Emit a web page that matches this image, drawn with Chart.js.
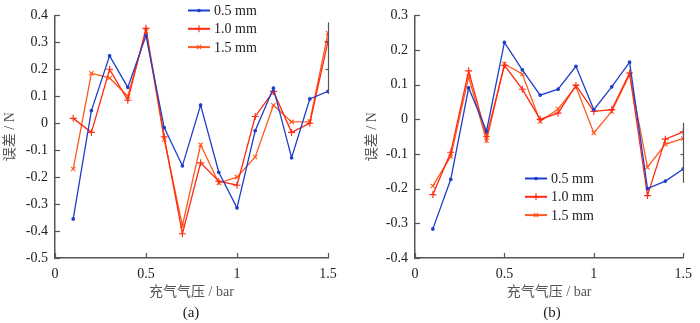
<!DOCTYPE html>
<html>
<head>
<meta charset="utf-8">
<script src="https://cdn.jsdelivr.net/npm/chart.js@4"></script>
<style>
  html, body { margin: 0; padding: 0; background: #fff; }
  #wrap { position: relative; width: 700px; height: 323px; overflow: hidden; }
  canvas { position: absolute; top: 0; }
  .cap { position: absolute; top: 304px; font: 15px 'Liberation Serif', serif; color: #222; width: 60px; text-align: center; }
</style>
</head>
<body>
<div id="wrap">
  <canvas id="ca" width="350" height="323" style="left:0"></canvas>
  <canvas id="cb" width="350" height="323" style="left:350px"></canvas>
  <div class="cap" style="left:161px">(a)</div>
  <div class="cap" style="left:522px">(b)</div>
</div>
<script>
// ---- data ----
const pressures = [0.1, 0.2, 0.3, 0.4, 0.5, 0.6, 0.7, 0.8, 0.9, 1.0, 1.1, 1.2, 1.3, 1.4, 1.5];
const seriesNames = ['0.5 mm', '1.0 mm', '1.5 mm'];

// (a)
const a_05 = [-0.355, 0.047, 0.25, 0.133, 0.325, -0.016, -0.158, 0.067, -0.182, -0.314, -0.028, 0.13, -0.128, 0.09, 0.118];
const a_10 = [0.018, -0.034, 0.2, 0.085, 0.352, -0.05, -0.41, -0.147, -0.215, -0.23, 0.025, 0.118, -0.034, 0.0, 0.303];
const a_15 = [-0.17, 0.185, 0.168, 0.1, 0.34, -0.06, -0.38, -0.08, -0.222, -0.2, -0.125, 0.067, 0.005, 0.006, 0.335];

// (b)
const b_05 = [-0.316, -0.173, 0.091, -0.034, 0.222, 0.143, 0.07, 0.087, 0.153, 0.028, 0.094, 0.165, -0.2, -0.178, -0.143];
const b_10 = [-0.217, -0.095, 0.14, -0.05, 0.156, 0.087, 0.0, 0.018, 0.098, 0.023, 0.028, 0.134, -0.22, -0.057, -0.036];
const b_15 = [-0.192, -0.107, 0.123, -0.062, 0.16, 0.131, -0.006, 0.03, 0.095, -0.039, 0.023, 0.129, -0.138, -0.072, -0.055];

const xTicks = [0, 0.5, 1, 1.5];
const a_yRange = [-0.5, 0.4];
const b_yRange = [-0.4, 0.3];
// short stub at right edge (x = 1.5): [top, bottom] in y values
const a_stub = [0.374, 0.109];
const b_stub = [-0.01, -0.183];

// ---- styles ----
const FONT = "'Liberation Serif', 'Noto Sans CJK SC', serif";
const AXIS = '#555555';
const COLORS = ['#1f3fc8', '#ff2a10', '#ff5a1e'];
const STYLES = [
  { pointStyle: 'circle', radius: 1.3 },
  { pointStyle: 'cross', radius: 3.5 },
  { pointStyle: 'crossRot', radius: 3 }
];

function mk(vals, i) {
  return {
    label: seriesNames[i],
    data: pressures.map((x, k) => ({ x: x, y: vals[k] })),
    borderColor: COLORS[i],
    backgroundColor: COLORS[i],
    borderWidth: 1.3,
    pointStyle: STYLES[i].pointStyle,
    pointRadius: STYLES[i].radius,
    pointBorderWidth: 1.1,
    pointBorderColor: COLORS[i],
    pointBackgroundColor: COLORS[i],
    tension: 0
  };
}

const decor = {
  id: 'decor',
  afterDraw(chart, args, opts) {
    const ctx = chart.ctx;
    const area = chart.chartArea;
    const xs = chart.scales.x, ys = chart.scales.y;
    ctx.save();
    ctx.strokeStyle = AXIS;
    ctx.lineWidth = 1.2;
    // inward ticks
    ys.ticks.forEach(t => {
      const py = Math.round(ys.getPixelForValue(t.value)) + 0.5;
      ctx.beginPath(); ctx.moveTo(area.left, py); ctx.lineTo(area.left + 5, py); ctx.stroke();
    });
    xs.ticks.forEach(t => {
      const px = Math.round(xs.getPixelForValue(t.value)) + 0.5;
      ctx.beginPath(); ctx.moveTo(px, area.bottom); ctx.lineTo(px, area.bottom - 5); ctx.stroke();
    });
    // right stub
    const stub = opts.stub;
    const sx = Math.round(xs.getPixelForValue(1.5)) + 0.5;
    ctx.beginPath();
    ctx.moveTo(sx, ys.getPixelForValue(stub[0]));
    ctx.lineTo(sx, ys.getPixelForValue(stub[1]));
    ctx.stroke();
    ys.ticks.forEach(t => {
      if (t.value < stub[0] && t.value > stub[1]) {
        const py = Math.round(ys.getPixelForValue(t.value)) + 0.5;
        ctx.beginPath(); ctx.moveTo(sx, py); ctx.lineTo(sx - 3, py); ctx.stroke();
      }
    });
    // legend
    const lx = area.left + opts.legendX;
    let ly = opts.legendY;
    chart.data.datasets.forEach((ds, i) => {
      ctx.strokeStyle = COLORS[i];
      ctx.lineWidth = 2;
      ctx.beginPath(); ctx.moveTo(lx, ly); ctx.lineTo(lx + 22, ly); ctx.stroke();
      ctx.fillStyle = COLORS[i];
      ctx.lineWidth = 1.1;
      Chart.helpers.drawPoint(ctx, { pointStyle: STYLES[i].pointStyle, radius: STYLES[i].radius, borderWidth: 1.1, rotation: 0 }, lx + 11, ly);
      ctx.fillStyle = '#222';
      ctx.font = '14px ' + FONT;
      ctx.textBaseline = 'middle';
      ctx.textAlign = 'left';
      ctx.fillText(ds.label, lx + 26, ly + 1);
      ly += 18.3;
    });
    ctx.restore();
  }
};

function makeChart(id, sets, yRange, padLeft, yWidth, padRight, stub, legendX, legendY) {
  return new Chart(document.getElementById(id), {
    type: 'line',
    data: { datasets: sets },
    options: {
      responsive: false,
      animation: false,
      devicePixelRatio: 1,
      layout: { padding: { left: padLeft, right: padRight, top: 11, bottom: 0 } },
      plugins: {
        legend: { display: false },
        tooltip: { enabled: false },
        decor: { stub: stub, legendX: legendX, legendY: legendY }
      },
      scales: {
        x: {
          type: 'linear',
          min: 0, max: 1.5,
          afterFit: s => { s.height = 65; },
          afterBuildTicks: s => { s.ticks = xTicks.map(v => ({ value: v })); },
          grid: { display: false, drawTicks: false },
          border: { display: true, color: AXIS, width: 1.5 },
          ticks: {
            padding: 8, color: '#222', font: { family: FONT, size: 14 },
            maxRotation: 0,
            callback: v => String(+v.toFixed(1))
          },
          title: { display: true, text: '充气气压 / bar', color: '#555', font: { family: FONT, size: 14 }, padding: { top: 0, bottom: 22 } }
        },
        y: {
          min: yRange[0], max: yRange[1],
          afterFit: s => { s.width = yWidth; },
          grid: { display: false, drawTicks: false },
          border: { display: true, color: AXIS, width: 1.5 },
          ticks: {
            stepSize: 0.1, padding: 7, color: '#222', font: { family: FONT, size: 14 },
            callback: v => String(+(+v).toFixed(1))
          },
          title: { display: true, text: '误差 / N', color: '#555', font: { family: FONT, size: 14 }, padding: { top: 2, bottom: 0 } }
        }
      }
    },
    plugins: [decor]
  });
}

makeChart('ca', [mk(a_05, 0), mk(a_10, 1), mk(a_15, 2)], a_yRange, 0, 55, 22, a_stub, 133, 10.5);
makeChart('cb', [mk(b_05, 0), mk(b_10, 1), mk(b_15, 2)], b_yRange, 12, 53, 12, b_stub, 110, 178.5);
</script>
</body>
</html>
